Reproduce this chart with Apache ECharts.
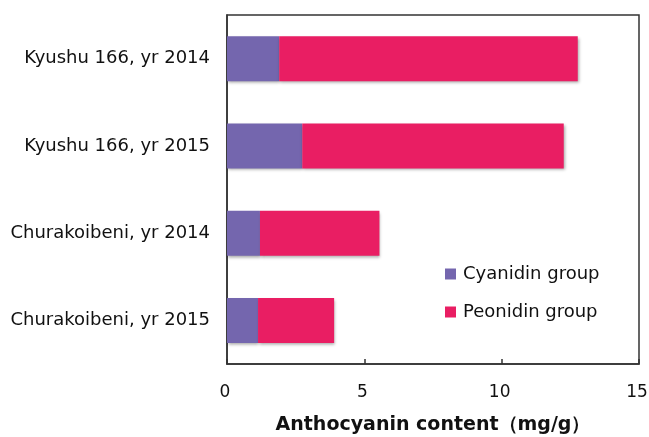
<!DOCTYPE html>
<html>
<head>
<meta charset="utf-8">
<script src="https://cdn.jsdelivr.net/npm/echarts@6/dist/echarts.min.js"></script>
<style>html,body{margin:0;padding:0;background:#fff}#c{width:649px;height:437px}</style>
</head>
<body>
<div id="c"></div>
<script>
var categories = ['Kyushu 166, yr 2014', 'Kyushu 166, yr 2015', 'Churakoibeni, yr 2014', 'Churakoibeni, yr 2015'];
var cyanidin = [1.9, 2.74, 1.2, 1.13];
var peonidin = [10.87, 9.52, 4.35, 2.77];
var seriesNames = ['Cyanidin group', 'Peonidin group'];
var xTicks = [0, 5, 10, 15];

var FONT = 'DejaVu Sans, Liberation Sans, Arial';
var chart = echarts.init(document.getElementById('c'));
var shadow = {shadowColor: 'rgba(0,0,0,0.35)', shadowBlur: 3, shadowOffsetX: 1, shadowOffsetY: 2};
chart.setOption({
  animation: false,
  grid: {left: 227, top: 15, right: 10, bottom: 73, show: true, borderColor: '#333', borderWidth: 1.5,
    containLabel: false, outerBoundsMode: 'none'},
  legend: {
    orient: 'vertical', left: 440, top: 260, itemWidth: 11, itemHeight: 11, itemGap: 20,
    icon: 'rect',
    textStyle: {fontFamily: FONT, fontSize: 18, color: '#111', padding: [0, 0, 0, 2]},
    data: seriesNames
  },
  xAxis: {
    type: 'value', min: xTicks[0], max: xTicks[xTicks.length - 1], interval: 5,
    axisLine: {show: true, lineStyle: {color: '#333', width: 1.5}},
    axisTick: {show: true, inside: true, length: 5, lineStyle: {color: '#333', width: 1.5}},
    splitLine: {show: false},
    axisLabel: {fontFamily: FONT, fontSize: 17, color: '#111', margin: 20, padding: [0, 4, 0, 0]},
    name: 'Anthocyanin content（mg/g）', nameLocation: 'middle', nameGap: 52,
    nameTextStyle: {fontFamily: FONT, fontSize: 19, fontWeight: 'bold', color: '#111'}
  },
  yAxis: {
    type: 'category', data: categories, inverse: true,
    axisLine: {show: true, lineStyle: {color: '#333', width: 1.5}},
    axisTick: {show: false},
    axisLabel: {fontFamily: FONT, fontSize: 18, color: '#111', margin: 17, padding: [10, 0, 0, 0]}
  },
  series: [
    {name: seriesNames[0], type: 'bar', stack: 'a', data: cyanidin, barWidth: 45,
      itemStyle: Object.assign({color: '#7466AE'}, shadow)},
    {name: seriesNames[1], type: 'bar', stack: 'a', data: peonidin, barWidth: 45,
      itemStyle: Object.assign({color: '#E91E63'}, shadow)}
  ]
});
</script>
</body>
</html>
